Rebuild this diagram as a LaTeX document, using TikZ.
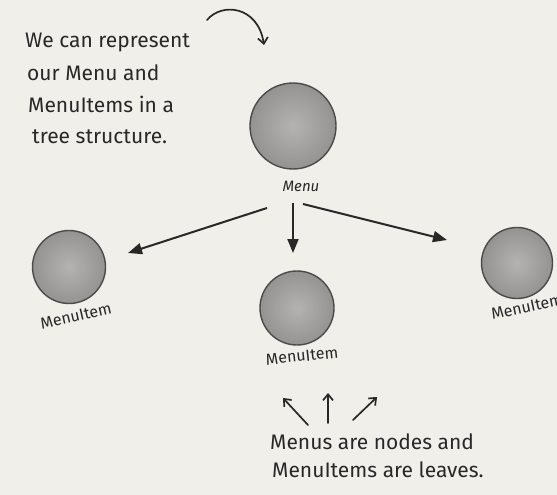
\documentclass[tikz,border=0pt]{standalone}
\usepackage{fontspec}
\setmainfont{Fira Sans}
\usetikzlibrary{arrows.meta}
\definecolor{paper}{RGB}{241,239,234}
\definecolor{ink}{RGB}{40,40,40}
\definecolor{ballin}{RGB}{180,179,178}
\definecolor{ballout}{RGB}{148,147,146}
\definecolor{balledge}{RGB}{75,75,75}
\begin{document}
\begin{tikzpicture}[x=1pt,y=1pt,
  ball/.style={circle, shading=radial, inner color=ballin, outer color=ballout, draw=balledge, line width=1.4pt, inner sep=0pt},
  hand/.style={text=ink, font=\fontsize{21}{25}\selectfont, anchor=base west, inner sep=0pt},
  itemlabel/.style={text=ink, font=\fontsize{16}{17}\selectfont, inner sep=0pt},
  tree/.style={draw=ink, line width=2pt, -{Triangle[length=14pt,width=11pt]}},
  thinarrow/.style={draw=ink, line width=1.7pt, line cap=round, -{Straight Barb[length=6pt,width=10pt]}}
]
\fill[paper] (0,0) rectangle (557,-495);
\useasboundingbox (0,0) rectangle (557,-495);

% balls
\node[ball, minimum size=86pt] (menu) at (293,-126) {};
\node[ball, minimum size=73pt] (left) at (69,-267) {};
\node[ball, minimum size=74pt] (mid) at (297,-308) {};
\node[ball, minimum size=71pt] (right) at (517,-263) {};

% labels
\node[text=ink, font=\fontsize{15}{15}\selectfont\itshape] (menulabel) at (301,-186) {Menu};
\node[itemlabel, rotate=13] (leftlabel) at (76,-316) {MenuItem};
\node[itemlabel, rotate=6] (midlabel) at (302,-356) {MenuItem};
\node[itemlabel, rotate=12] (rightlabel) at (527,-307) {MenuItem};

% tree arrows
\coordinate (mL) at (267,-208);
\coordinate (mC) at (293,-203);
\coordinate (mR) at (303,-204);
\coordinate (eL) at (128,-253);
\coordinate (eC) at (293,-253);
\coordinate (eR) at (447,-240);
\draw[tree] (mL) -- (eL);
\draw[tree] (mC) -- (eC);
\draw[tree] (mR) -- (eR);

% top text and curved arrow
\node[hand] (t1) at (25,-48) {We can represent};
\node[hand] (t2) at (27,-81) {our Menu and};
\node[hand] (t3) at (28,-112) {MenuItems in a};
\node[hand] (t4) at (32,-143) {tree structure.};
\coordinate (c0) at (207,-20);
\coordinate (c1) at (264,-45);
\draw[thinarrow] (c0) .. controls (222,-2) and (258,-6) .. (c1);

% bottom text and arrows
\coordinate (b1s) at (308,-425);
\coordinate (b1e) at (283,-398);
\coordinate (b2s) at (328,-423);
\coordinate (b2e) at (328,-393);
\coordinate (b3s) at (353,-420);
\coordinate (b3e) at (377,-397);
\draw[thinarrow] (b1s) -- (b1e);
\draw[thinarrow] (b2s) -- (b2e);
\draw[thinarrow] (b3s) -- (b3e);
\node[hand] (n1) at (270,-449) {Menus are nodes and};
\node[hand] (n2) at (272,-477) {MenuItems are leaves.};
\end{tikzpicture}
\end{document}
